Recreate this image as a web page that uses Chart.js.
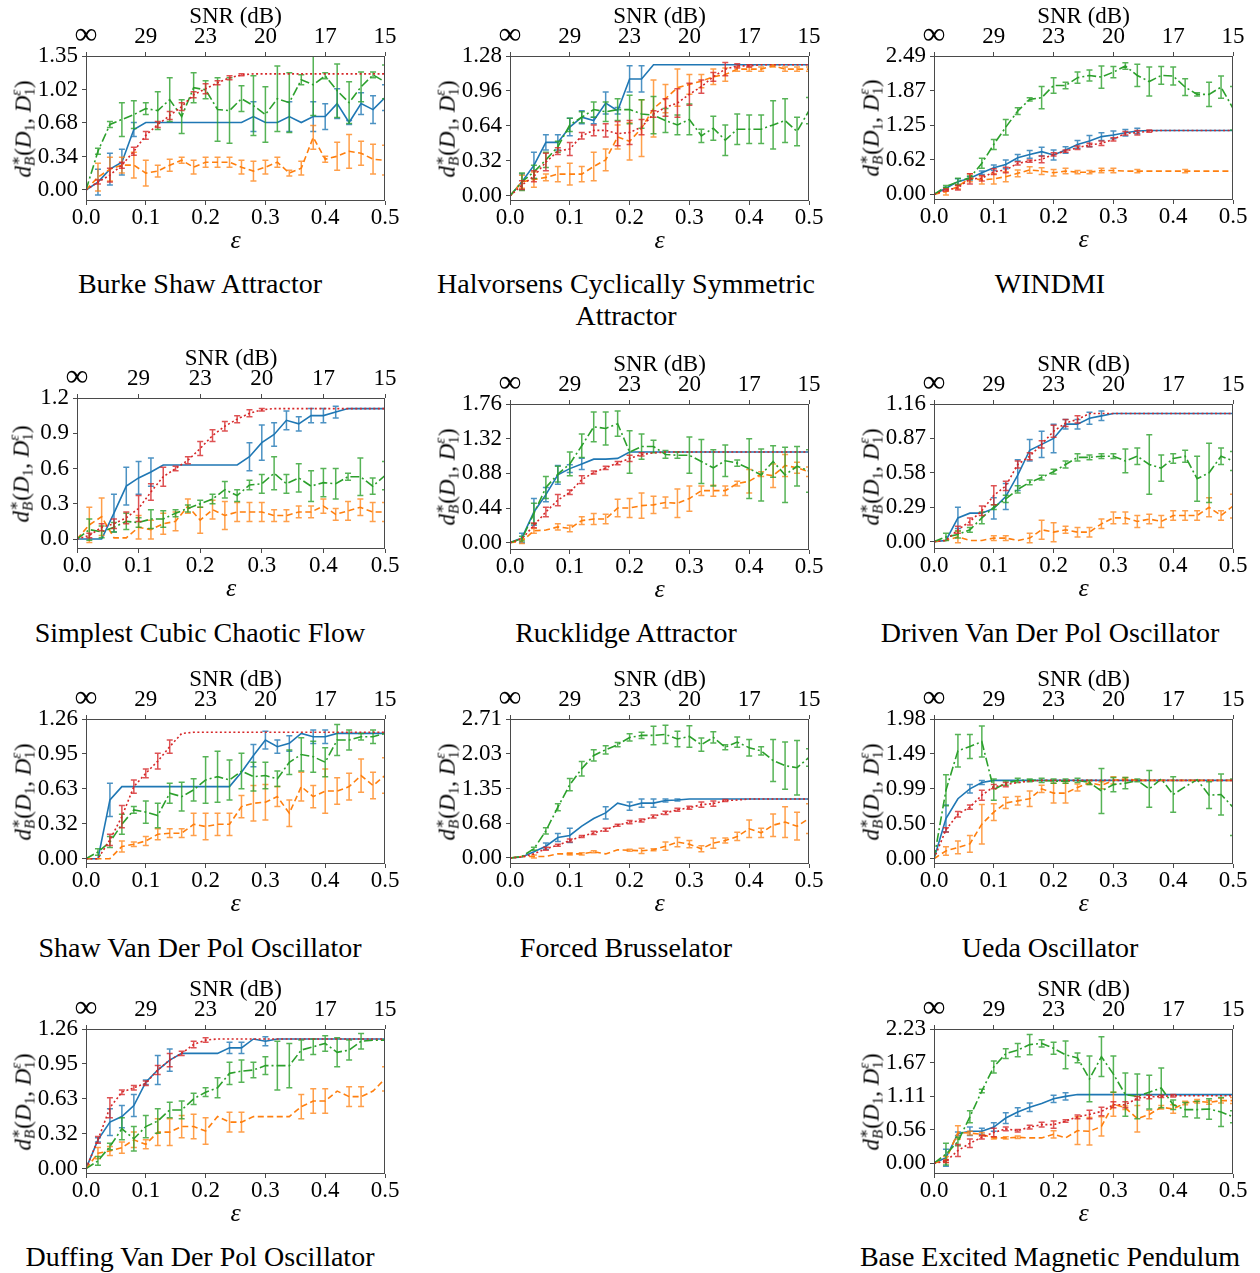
<!DOCTYPE html>
<html>
<head>
<meta charset="utf-8">
<script src="https://cdn.jsdelivr.net/npm/chart.js@4.4.1/dist/chart.umd.min.js"></script>
<style>
body { margin: 0; background: #fff; }
#fig { position: relative; width: 1260px; height: 1273px; overflow: hidden; font-family: 'Liberation Serif', 'DejaVu Serif', serif; color: #000; }
.panel { position: absolute; }
.title { position: absolute; width: 440px; text-align: center; font-size: 28px; line-height: 32px; white-space: pre; }
.ylab { position: absolute; font-size: 23px; line-height: 1; white-space: nowrap; transform: translate(-50%, -50%) rotate(-90deg); }
.ss { display: inline-block; vertical-align: -0.3em; font-size: 0.66em; line-height: 0.95; }
.ss span { display: block; }
.sb { font-size: 0.66em; vertical-align: -0.3em; }
</style>
</head>
<body>
<div id="fig"></div>
<script>
// noise levels
const eps = [0.00, 0.02, 0.04, 0.06, 0.08, 0.10, 0.12, 0.14, 0.16, 0.18, 0.20, 0.22, 0.24,
             0.26, 0.28, 0.30, 0.32, 0.34, 0.36, 0.38, 0.40, 0.42, 0.44, 0.46, 0.48, 0.50];
const xTickValues = [0, 0.1, 0.2, 0.3, 0.4, 0.5];
const xTickLabels = ['0.0', '0.1', '0.2', '0.3', '0.4', '0.5'];
const snrTickLabels = ['∞', '29', '23', '20', '17', '15'];

// Burke Shaw
const bsTicks = ['0.00', '0.34', '0.68', '1.02', '1.35'];
const bsBlue = [0.00,0.08,0.21,0.28,0.61,0.68,0.68,0.68,0.68,0.68,0.68,0.68,0.68,0.68,0.74,0.68,0.68,0.74,0.68,0.74,0.74,0.87,0.68,0.87,0.81,0.93];
const bsBlueErr = [0,0.13,0.16,0.13,0.07,0,0,0,0,0,0,0,0,0,0.15,0,0,0.15,0,0.15,0.13,0.15,0.02,0.11,0.14,0.13];
const bsOrange = [0.00,0.13,0.21,0.25,0.25,0.17,0.19,0.25,0.30,0.23,0.28,0.28,0.28,0.23,0.19,0.23,0.28,0.17,0.22,0.53,0.31,0.34,0.39,0.37,0.31,0.30];
const bsOrangeErr = [0,0.14,0.12,0.08,0.13,0.13,0.06,0.06,0.03,0.07,0.05,0.05,0.05,0.07,0.10,0.07,0.05,0.03,0.07,0.12,0.03,0.14,0.17,0.12,0.15,0.15];
const bsGreen = [0.00,0.39,0.66,0.71,0.76,0.82,0.80,0.91,0.74,1.03,1.01,0.81,0.80,0.92,0.85,0.76,0.92,0.88,1.11,1.06,1.15,1.00,0.88,1.04,1.16,1.09];
const bsGreenErr = [0,0.03,0.03,0.17,0.14,0.06,0.19,0.22,0.17,0.15,0.09,0.32,0.33,0.13,0.30,0.28,0.33,0.30,0.05,0.31,0.03,0.27,0.21,0.15,0.03,0.17];
const bsRed = [0.00,0.08,0.15,0.25,0.39,0.55,0.66,0.75,0.84,0.96,1.02,1.08,1.13,1.16,1.17,1.17,1.17,1.17,1.17,1.17,1.17,1.17,1.17,1.17,1.17,1.17];
const bsRedErr = [0,0.02,0.07,0.03,0.04,0.04,0.03,0.04,0.04,0.03,0.05,0.02,0.02,0.01,0,0,0,0,0,0,0,0,0,0,0,0];

// Halvorsen
const hcTicks = ['0.00', '0.32', '0.64', '0.96', '1.28'];
const hcBlue = [0.00,0.13,0.28,0.49,0.49,0.63,0.72,0.69,0.85,0.78,1.07,1.07,1.20,1.20,1.20,1.20,1.20,1.20,1.20,1.20,1.20,1.20,1.20,1.20,1.20,1.20];
const hcBlueErr = [0,0.07,0.12,0.07,0.07,0.08,0.06,0.03,0.10,0.03,0.12,0.12,0,0,0,0,0,0,0,0,0,0,0,0,0,0];
const hcOrange = [0.00,0.13,0.15,0.17,0.20,0.20,0.20,0.27,0.33,0.54,0.50,0.62,0.80,0.89,0.99,1.02,1.05,1.09,1.11,1.16,1.16,1.16,1.19,1.16,1.16,1.16];
const hcOrangeErr = [0,0.06,0.07,0.03,0.07,0.10,0.07,0.13,0.10,0.11,0.17,0.26,0.26,0.13,0.17,0.09,0.06,0.07,0.06,0.02,0.02,0.02,0.01,0.02,0.02,0.02];
const hcGreen = [0.00,0.13,0.22,0.33,0.45,0.65,0.72,0.79,0.77,0.79,0.79,0.75,0.74,0.69,0.65,0.70,0.55,0.62,0.51,0.61,0.61,0.61,0.65,0.69,0.59,0.78];
const hcGreenErr = [0,0.08,0.06,0.07,0.05,0.06,0.05,0.07,0.09,0.10,0.13,0.13,0.17,0.11,0.09,0.14,0.06,0.11,0.14,0.14,0.13,0.13,0.22,0.20,0.13,0.12];
const hcRed = [0.00,0.10,0.18,0.31,0.41,0.43,0.55,0.60,0.60,0.57,0.58,0.63,0.75,0.81,0.85,0.93,1.00,1.09,1.16,1.19,1.19,1.20,1.20,1.20,1.20,1.20];
const hcRedErr = [0,0.04,0.05,0.08,0.03,0.06,0.03,0.05,0.06,0.11,0.11,0.07,0.03,0.08,0.13,0.10,0.06,0.04,0.06,0.02,0.01,0,0,0,0,0];

// WINDMI
const wmTicks = ['0.00', '0.62', '1.25', '1.87', '2.49'];
const wmBlue = [0.00,0.11,0.23,0.29,0.39,0.48,0.54,0.66,0.72,0.77,0.71,0.80,0.90,0.96,1.04,1.07,1.11,1.14,1.15,1.15,1.15,1.15,1.15,1.15,1.15,1.15];
const wmBlueErr = [0,0.02,0.05,0.03,0.03,0.05,0.08,0.06,0.07,0.08,0.09,0.06,0.07,0.10,0.07,0.07,0.06,0.05,0,0,0,0,0,0,0,0];
const wmOrange = [0.00,0.05,0.14,0.30,0.26,0.28,0.32,0.38,0.44,0.42,0.39,0.42,0.40,0.40,0.43,0.43,0.42,0.42,0.42,0.42,0.42,0.42,0.42,0.42,0.42,0.42];
const wmOrangeErr = [0,0.06,0.04,0.07,0.07,0.09,0.09,0.06,0.06,0.06,0.06,0.05,0.03,0.03,0.04,0.04,0,0.03,0,0,0,0.03,0,0,0,0];
const wmGreen = [0.00,0.14,0.23,0.30,0.56,0.90,1.21,1.50,1.71,1.74,1.96,1.96,2.10,2.14,2.11,2.20,2.31,2.14,2.03,2.14,2.13,1.93,1.80,1.80,1.93,1.55];
const wmGreenErr = [0,0.02,0.06,0.03,0.09,0.09,0.14,0.06,0.03,0.20,0.14,0.06,0.10,0.10,0.20,0.10,0.06,0.20,0.26,0.16,0.16,0.15,0.03,0.22,0.20,0.39];
const wmRed = [0.00,0.08,0.12,0.28,0.29,0.41,0.44,0.56,0.60,0.63,0.72,0.78,0.84,0.89,0.92,0.99,1.10,1.11,1.14,1.15,1.15,1.15,1.15,1.15,1.15,1.15];
const wmRedErr = [0,0.02,0.04,0.09,0.05,0.05,0.05,0.03,0.02,0.06,0.03,0.02,0.03,0.03,0.04,0.03,0.03,0.04,0.02,0,0,0,0,0,0,0];

// Simplest cubic chaotic flow
const scTicks = ['0.0', '0.3', '0.6', '0.9', '1.2'];
const scBlue = [0.00,0.00,0.00,0.22,0.45,0.52,0.57,0.63,0.63,0.63,0.63,0.63,0.63,0.63,0.70,0.82,0.89,1.01,0.98,1.05,1.05,1.08,1.11,1.11,1.11,1.11];
const scBlueErr = [0,0,0,0.16,0.16,0.14,0.12,0,0,0,0,0,0,0,0.12,0.15,0.10,0.08,0.06,0.06,0.06,0.05,0,0,0,0];
const scOrange = [0.00,0.12,0.19,0.01,0.01,0.10,0.08,0.13,0.15,0.28,0.16,0.25,0.20,0.23,0.23,0.23,0.20,0.20,0.23,0.23,0.28,0.21,0.24,0.27,0.23,0.23];
const scOrangeErr = [0,0.15,0.16,0,0,0.10,0.08,0.09,0.08,0.06,0.11,0.08,0.12,0.08,0.08,0.08,0.05,0.05,0.05,0.05,0.06,0.05,0.08,0.07,0.08,0.08];
const scGreen = [0.00,0.08,0.06,0.10,0.15,0.14,0.17,0.17,0.22,0.26,0.30,0.34,0.42,0.37,0.46,0.47,0.56,0.47,0.52,0.45,0.48,0.47,0.53,0.53,0.45,0.54];
const scGreenErr = [0,0.09,0.05,0.04,0.07,0.04,0.08,0.07,0.03,0.03,0.03,0.04,0.07,0.05,0.04,0.08,0.14,0.08,0.12,0.13,0.12,0.13,0.03,0.16,0.07,0.12];
const scRed = [0.00,0.03,0.10,0.13,0.18,0.26,0.40,0.53,0.60,0.67,0.77,0.88,0.96,1.02,1.07,1.10,1.11,1.11,1.11,1.11,1.11,1.11,1.11,1.11,1.11,1.11];
const scRedErr = [0,0.02,0.03,0.04,0.05,0.11,0.07,0.08,0.02,0.03,0.06,0.05,0.04,0.03,0.03,0.01,0,0,0,0,0,0,0,0,0,0];

// Rucklidge
const rkTicks = ['0.00', '0.44', '0.88', '1.32', '1.76'];
const rkBlue = [0.00,0.06,0.39,0.61,0.86,0.94,1.00,1.06,1.06,1.07,1.15,1.15,1.15,1.15,1.15,1.15,1.15,1.15,1.15,1.15,1.15,1.15,1.15,1.15,1.15,1.15];
const rkBlueErr = [0,0.06,0.17,0.09,0.12,0.05,0.07,0,0,0,0,0,0,0,0,0,0,0,0,0,0,0,0,0,0,0];
const rkOrange = [0.00,0.02,0.15,0.16,0.20,0.18,0.28,0.30,0.30,0.44,0.44,0.47,0.48,0.51,0.50,0.56,0.66,0.66,0.66,0.75,0.78,0.87,0.85,0.98,0.95,0.90];
const rkOrangeErr = [0,0.03,0.03,0,0.04,0.04,0.05,0.07,0.06,0.11,0.12,0.16,0.11,0.07,0.18,0.16,0.06,0.07,0.06,0.03,0.15,0.03,0.15,0.14,0.07,0.06];
const rkGreen = [0.00,0.05,0.37,0.70,0.87,1.00,1.23,1.47,1.45,1.51,1.15,1.22,1.22,1.12,1.11,1.11,1.03,0.95,1.04,1.01,0.94,0.86,1.03,0.86,0.97,0.91];
const rkGreenErr = [0,0.03,0.13,0.14,0.10,0.15,0.15,0.19,0.21,0.16,0.27,0.16,0.08,0.05,0.04,0.23,0.28,0.23,0.20,0.04,0.38,0.33,0.20,0.35,0.25,0.27];
const rkRed = [0.00,0.05,0.22,0.39,0.54,0.64,0.80,0.89,0.95,1.01,1.07,1.12,1.14,1.15,1.15,1.15,1.15,1.15,1.15,1.15,1.15,1.15,1.15,1.15,1.15,1.15];
const rkRedErr = [0,0,0.03,0.06,0.07,0.03,0.05,0.02,0.02,0.02,0.04,0.02,0,0,0,0,0,0,0,0,0,0,0,0,0,0];

// Driven Van der Pol
const dvTicks = ['0.00', '0.29', '0.58', '0.87', '1.16'];
const dvBlue = [0.00,0.01,0.20,0.24,0.24,0.28,0.38,0.56,0.77,0.82,0.87,0.99,0.99,1.04,1.06,1.08,1.08,1.08,1.08,1.08,1.08,1.08,1.08,1.08,1.08,1.08];
const dvBlueErr = [0,0,0.09,0,0,0.09,0.11,0.13,0.09,0.11,0.12,0.04,0.04,0.05,0.04,0,0,0,0,0,0,0,0,0,0,0];
const dvOrange = [0.00,0.01,0.04,0.01,0.01,0.03,0.03,0.01,0.03,0.10,0.08,0.10,0.08,0.08,0.15,0.20,0.20,0.17,0.19,0.17,0.22,0.22,0.22,0.29,0.22,0.30];
const dvOrangeErr = [0,0,0.05,0,0,0.02,0.02,0,0.04,0.08,0.08,0.03,0.04,0.04,0.04,0.05,0.05,0.05,0.04,0.05,0.04,0.04,0.04,0.08,0.04,0.10];
const dvGreen = [0.00,0.04,0.06,0.10,0.20,0.29,0.36,0.44,0.50,0.54,0.59,0.65,0.71,0.71,0.72,0.72,0.68,0.72,0.65,0.62,0.70,0.72,0.53,0.58,0.72,0.68];
const dvGreenErr = [0,0.03,0.03,0.02,0.05,0.02,0.03,0.03,0.02,0.02,0.02,0.03,0.03,0.02,0.02,0.02,0.10,0.07,0.25,0.11,0.04,0.05,0.19,0.25,0.07,0.08];
const dvRed = [0.00,0.01,0.10,0.17,0.26,0.39,0.47,0.65,0.72,0.82,0.93,1.00,1.03,1.08,1.08,1.08,1.08,1.08,1.08,1.08,1.08,1.08,1.08,1.08,1.08,1.08];
const dvRedErr = [0,0,0.03,0.03,0.04,0.08,0.04,0.03,0.03,0.03,0.05,0.03,0.03,0,0,0,0,0,0,0,0,0,0,0,0,0];

// Shaw Van der Pol
const svTicks = ['0.00', '0.32', '0.63', '0.95', '1.26'];
const svBlue = [0.00,0.00,0.53,0.65,0.65,0.65,0.65,0.65,0.65,0.65,0.65,0.65,0.65,0.78,0.93,1.07,1.01,1.04,1.13,1.10,1.10,1.13,1.13,1.13,1.13,1.13];
const svBlueErr = [0,0,0.15,0,0,0,0,0,0,0,0,0,0,0,0.10,0.08,0.06,0.07,0,0.06,0.06,0,0,0,0,0];
const svOrange = [0.00,0.00,0.00,0.11,0.13,0.16,0.22,0.23,0.23,0.31,0.29,0.31,0.31,0.47,0.50,0.51,0.56,0.41,0.65,0.56,0.61,0.61,0.65,0.75,0.66,0.75];
const svOrangeErr = [0,0,0,0.05,0.02,0.04,0.05,0.04,0.04,0.10,0.12,0.10,0.10,0.10,0.16,0.16,0.09,0.12,0.13,0.10,0.20,0.12,0.12,0.15,0.12,0.16];
const svGreen = [0.00,0.06,0.15,0.31,0.44,0.42,0.39,0.59,0.56,0.62,0.71,0.74,0.71,0.79,0.74,0.75,0.72,0.87,0.94,0.92,0.87,1.07,1.07,1.10,1.10,1.13];
const svGreenErr = [0,0.03,0.05,0.09,0.03,0.10,0.11,0.09,0.13,0.10,0.21,0.23,0.18,0.16,0.13,0.12,0.07,0.11,0.15,0.14,0.13,0.14,0.09,0.03,0.06,0];
const svRed = [0.00,0.00,0.17,0.38,0.65,0.77,0.88,1.01,1.13,1.14,1.14,1.14,1.14,1.14,1.14,1.14,1.14,1.14,1.14,1.14,1.14,1.14,1.14,1.14,1.14,1.14];
const svRedErr = [0,0,0.05,0.10,0.06,0.04,0.07,0.06,0,0,0,0,0,0,0,0,0,0,0,0,0,0,0,0,0,0];

// Forced Brusselator
const fbTicks = ['0.00', '0.68', '1.35', '2.03', '2.71'];
const fbBlue = [0.00,0.02,0.12,0.23,0.40,0.44,0.62,0.77,0.88,1.07,1.01,1.07,1.07,1.12,1.13,1.15,1.15,1.15,1.15,1.15,1.15,1.15,1.15,1.15,1.15,1.15];
const fbBlueErr = [0,0,0,0.06,0.08,0.14,0,0,0.12,0,0.08,0.08,0.08,0.03,0.02,0,0,0,0,0,0,0,0,0,0,0];
const fbOrange = [0.00,0.03,0.03,0.03,0.08,0.08,0.08,0.12,0.08,0.16,0.15,0.14,0.16,0.23,0.31,0.27,0.18,0.29,0.34,0.42,0.57,0.49,0.64,0.70,0.62,0.77];
const fbOrangeErr = [0,0,0.03,0,0,0.02,0.02,0.02,0,0,0.02,0.05,0.02,0.08,0.09,0.07,0.06,0.10,0.05,0.08,0.17,0.09,0.22,0.30,0.27,0.29];
const fbGreen = [0.00,0.03,0.18,0.53,0.99,1.43,1.74,2.00,2.11,2.21,2.35,2.39,2.39,2.41,2.32,2.37,2.21,2.35,2.16,2.26,2.15,2.09,1.90,1.80,1.76,1.96];
const fbGreenErr = [0,0,0.03,0.06,0.07,0.12,0.14,0.11,0.08,0.04,0.07,0.06,0.18,0.18,0.15,0.21,0.13,0.11,0.05,0.10,0.16,0.08,0.41,0.46,0.53,0.17];
const fbRed = [0.00,0.02,0.08,0.18,0.25,0.34,0.42,0.49,0.55,0.64,0.70,0.73,0.81,0.88,0.94,0.98,1.04,1.06,1.12,1.13,1.15,1.15,1.15,1.15,1.15,1.15];
const fbRedErr = [0,0,0,0.03,0.02,0.03,0.02,0.03,0.03,0.02,0.03,0.03,0.03,0.03,0.03,0.03,0.05,0.05,0.02,0,0,0,0,0,0,0];

// Ueda
const ueTicks = ['0.00', '0.50', '0.99', '1.49', '1.98'];
const ueBlue = [0.00,0.57,0.85,0.99,1.08,1.11,1.11,1.11,1.11,1.11,1.11,1.11,1.11,1.11,1.11,1.11,1.11,1.11,1.11,1.11,1.11,1.11,1.11,1.11,1.11,1.11];
const ueBlueErr = [0,0.19,0,0.06,0.03,0,0,0,0,0,0,0,0,0,0,0,0,0,0,0,0,0,0,0,0,0];
const ueOrange = [0.00,0.11,0.16,0.21,0.49,0.66,0.79,0.82,0.85,0.99,0.93,0.93,1.01,1.08,1.04,1.11,1.13,1.11,1.11,1.11,1.11,1.11,1.11,1.11,1.11,1.11];
const ueOrangeErr = [0,0.06,0.09,0.12,0.28,0.12,0.08,0.06,0.11,0.05,0.14,0.14,0.05,0.03,0.05,0.05,0.02,0,0,0,0,0,0,0,0,0];
const ueGreen = [0.00,0.97,1.53,1.59,1.66,0.98,1.07,1.11,1.11,1.11,1.10,1.10,1.11,1.08,0.96,1.05,1.07,1.11,0.99,1.13,0.91,1.02,1.12,0.90,0.91,0.73];
const ueGreenErr = [0,0.22,0.23,0.17,0.22,0.15,0.03,0.03,0.02,0.03,0.03,0.03,0.03,0.03,0.32,0.10,0.08,0.02,0.26,0,0.25,0,0,0.19,0.29,0.40];
const ueRed = [0.00,0.41,0.63,0.73,0.90,1.02,1.05,1.08,1.10,1.11,1.11,1.11,1.11,1.11,1.11,1.11,1.11,1.11,1.11,1.11,1.11,1.11,1.11,1.11,1.11,1.11];
const ueRedErr = [0,0.03,0.04,0.03,0.07,0.03,0.03,0,0,0,0,0,0,0,0,0,0,0,0,0,0,0,0,0,0,0];

// Duffing Van der Pol
const duTicks = ['0.00', '0.32', '0.63', '0.95', '1.26'];
const duBlue = [0.00,0.26,0.42,0.47,0.57,0.78,0.89,0.98,1.04,1.04,1.04,1.04,1.09,1.09,1.17,1.15,1.17,1.17,1.17,1.17,1.17,1.17,1.17,1.17,1.17,1.17];
const duBlueErr = [0,0.02,0.12,0.10,0.10,0.02,0.13,0.10,0,0,0,0,0.05,0.05,0,0.04,0,0,0,0,0,0,0,0,0,0];
const duOrange = [0.00,0.14,0.16,0.19,0.26,0.22,0.33,0.33,0.38,0.38,0.34,0.47,0.42,0.42,0.47,0.47,0.47,0.47,0.56,0.61,0.61,0.70,0.65,0.65,0.70,0.81];
const duOrangeErr = [0,0.05,0.04,0.05,0.07,0.04,0.12,0.12,0.10,0.11,0.12,0,0.09,0.09,0,0,0,0,0.11,0.11,0.11,0,0.09,0.09,0,0.11];
const duGreen = [0.00,0.07,0.20,0.36,0.27,0.38,0.43,0.53,0.53,0.63,0.69,0.73,0.86,0.88,0.89,0.93,0.93,0.93,1.07,1.10,1.13,1.05,1.07,1.15,1.16,1.16];
const duGreenErr = [0,0.04,0.03,0.10,0.11,0.10,0.11,0.07,0.08,0.05,0.04,0.09,0.10,0.10,0.07,0.08,0.22,0.20,0.09,0.07,0.07,0.13,0.09,0.07,0,0];
const duRed = [0.00,0.26,0.55,0.69,0.73,0.77,0.89,0.98,1.04,1.12,1.16,1.17,1.17,1.17,1.17,1.17,1.17,1.17,1.17,1.17,1.17,1.17,1.17,1.17,1.17,1.17];
const duRedErr = [0,0.03,0.09,0.02,0.02,0.02,0.04,0.06,0.02,0.03,0.02,0,0,0,0,0,0,0,0,0,0,0,0,0,0,0];

// Base excited magnetic pendulum
const bpTicks = ['0.00', '0.56', '1.11', '1.67', '2.23'];
const bpBlue = [0.00,0.09,0.49,0.53,0.53,0.60,0.75,0.85,0.93,0.99,1.07,1.11,1.14,1.14,1.14,1.14,1.14,1.14,1.14,1.14,1.14,1.14,1.14,1.14,1.14,1.14];
const bpBlueErr = [0,0.14,0.03,0.07,0.05,0.07,0.09,0.07,0.07,0,0.06,0.06,0,0,0,0,0,0,0,0,0,0,0,0,0,0];
const bpOrange = [0.00,0.06,0.51,0.50,0.48,0.42,0.42,0.43,0.42,0.42,0.48,0.42,0.54,0.53,0.61,0.98,0.92,0.74,0.81,0.93,0.90,1.00,1.03,1.01,1.04,1.04];
const bpOrangeErr = [0,0.05,0.11,0.03,0.03,0.02,0.02,0.02,0,0,0.06,0,0.23,0.23,0.16,0.20,0.03,0.22,0.07,0.03,0.07,0.03,0.03,0.03,0.04,0.05];
const bpGreen = [0.00,0.15,0.36,0.77,1.20,1.60,1.82,1.88,1.97,1.99,1.91,1.80,1.75,1.40,1.77,1.48,1.14,1.11,1.18,1.25,0.97,0.89,0.89,0.90,0.85,0.77];
const bpGreenErr = [0,0.18,0.07,0.10,0.03,0.10,0.08,0.11,0.17,0.06,0.10,0.23,0.08,0.38,0.33,0.30,0.36,0.37,0.28,0.33,0.08,0.12,0.14,0.17,0.24,0.10];
const bpRed = [0.00,0.03,0.21,0.33,0.43,0.51,0.57,0.54,0.60,0.64,0.64,0.70,0.77,0.81,0.86,0.97,0.97,1.08,1.10,1.11,1.12,1.12,1.12,1.12,1.12,1.12];
const bpRedErr = [0,0.02,0.10,0.07,0.03,0.07,0.03,0.02,0.03,0.04,0.06,0.02,0.03,0.07,0.07,0.05,0.05,0.03,0.03,0.02,0.02,0,0,0,0,0];

const systems = [
    { title: 'Burke Shaw Attractor', ticks: bsTicks, series: [bsBlue, bsOrange, bsGreen, bsRed], errors: [bsBlueErr, bsOrangeErr, bsGreenErr, bsRedErr] },
    { title: 'Halvorsens Cyclically Symmetric\nAttractor', ticks: hcTicks, series: [hcBlue, hcOrange, hcGreen, hcRed], errors: [hcBlueErr, hcOrangeErr, hcGreenErr, hcRedErr] },
    { title: 'WINDMI', ticks: wmTicks, series: [wmBlue, wmOrange, wmGreen, wmRed], errors: [wmBlueErr, wmOrangeErr, wmGreenErr, wmRedErr] },
    { title: 'Simplest Cubic Chaotic Flow', ticks: scTicks, series: [scBlue, scOrange, scGreen, scRed], errors: [scBlueErr, scOrangeErr, scGreenErr, scRedErr] },
    { title: 'Rucklidge Attractor', ticks: rkTicks, series: [rkBlue, rkOrange, rkGreen, rkRed], errors: [rkBlueErr, rkOrangeErr, rkGreenErr, rkRedErr] },
    { title: 'Driven Van Der Pol Oscillator', ticks: dvTicks, series: [dvBlue, dvOrange, dvGreen, dvRed], errors: [dvBlueErr, dvOrangeErr, dvGreenErr, dvRedErr] },
    { title: 'Shaw Van Der Pol Oscillator', ticks: svTicks, series: [svBlue, svOrange, svGreen, svRed], errors: [svBlueErr, svOrangeErr, svGreenErr, svRedErr] },
    { title: 'Forced Brusselator', ticks: fbTicks, series: [fbBlue, fbOrange, fbGreen, fbRed], errors: [fbBlueErr, fbOrangeErr, fbGreenErr, fbRedErr] },
    { title: 'Ueda Oscillator', ticks: ueTicks, series: [ueBlue, ueOrange, ueGreen, ueRed], errors: [ueBlueErr, ueOrangeErr, ueGreenErr, ueRedErr] },
    { title: 'Duffing Van Der Pol Oscillator', ticks: duTicks, series: [duBlue, duOrange, duGreen, duRed], errors: [duBlueErr, duOrangeErr, duGreenErr, duRedErr] },
    { title: 'Base Excited Magnetic Pendulum', ticks: bpTicks, series: [bpBlue, bpOrange, bpGreen, bpRed], errors: [bpBlueErr, bpOrangeErr, bpGreenErr, bpRedErr] }
];

// plot-area boxes on the page (px) and lower y limit of each axis
const panels = [
    { left: 86,  right: 385,  top: 56,   bottom: 201,  yMin: -0.111, labelX: 23,  titleX: 200,  titleY: 284 },
    { left: 510, right: 809,  top: 56,   bottom: 201,  yMin: -0.046, labelX: 447, titleX: 626,  titleY: 284 },
    { left: 934, right: 1233, top: 56,   bottom: 200,  yMin: -0.10,  labelX: 871, titleX: 1050, titleY: 284 },
    { left: 77,  right: 385,  top: 398,  bottom: 549,  yMin: -0.085, labelX: 21,  titleX: 200,  titleY: 633 },
    { left: 510, right: 809,  top: 404,  bottom: 550,  yMin: -0.093, labelX: 447, titleX: 626,  titleY: 633 },
    { left: 934, right: 1233, top: 404,  bottom: 549,  yMin: -0.062, labelX: 871, titleX: 1050, titleY: 633 },
    { left: 86,  right: 385,  top: 719,  bottom: 864,  yMin: -0.048, labelX: 23,  titleX: 200,  titleY: 948 },
    { left: 510, right: 809,  top: 719,  bottom: 864,  yMin: -0.117, labelX: 447, titleX: 626,  titleY: 948 },
    { left: 934, right: 1233, top: 719,  bottom: 864,  yMin: -0.075, labelX: 871, titleX: 1050, titleY: 948 },
    { left: 86,  right: 385,  top: 1029, bottom: 1174, yMin: -0.048, labelX: 23,  titleX: 200,  titleY: 1257 },
    { left: 934, right: 1233, top: 1029, bottom: 1174, yMin: -0.18,  labelX: 871, titleX: 1050, titleY: 1257 }
];

const seriesColors = ['#1f77b4', '#ff7f0e', '#2ca02c', '#d62728'];
const errorColors = ['rgba(31,119,180,0.8)', 'rgba(255,127,14,0.75)', 'rgba(44,160,44,0.8)', 'rgba(214,39,40,0.8)'];
const seriesDash = [[], [6, 3.5], [9, 3, 2, 3], [2, 2.5]];
const axisColor = '#4a4a4a';
const FONT = "'Liberation Serif', 'DejaVu Serif', serif";

const errorBars = {
    id: 'errorBars',
    afterDatasetDraw(chart, args) {
        const ds = chart.data.datasets[args.index];
        if (!ds.errors) return;
        const { ctx, chartArea: a } = chart;
        const ys = chart.scales.y;
        ctx.save();
        ctx.beginPath();
        ctx.rect(a.left, a.top, a.right - a.left, a.bottom - a.top);
        ctx.clip();
        ctx.strokeStyle = ds.errorColor;
        ctx.lineWidth = 1.5;
        args.meta.data.forEach((pt, i) => {
            const e = ds.errors[i];
            if (!e) return;
            const v = ds.data[i].y;
            const y1 = ys.getPixelForValue(v - e);
            const y2 = ys.getPixelForValue(v + e);
            ctx.beginPath();
            ctx.moveTo(pt.x, y1); ctx.lineTo(pt.x, y2);
            ctx.moveTo(pt.x - 3, y1); ctx.lineTo(pt.x + 3, y1);
            ctx.moveTo(pt.x - 3, y2); ctx.lineTo(pt.x + 3, y2);
            ctx.stroke();
        });
        ctx.restore();
    }
};

const frame = {
    id: 'frame',
    afterDatasetsDraw(chart) {
        const { ctx, chartArea: a } = chart;
        ctx.save();
        ctx.strokeStyle = axisColor;
        ctx.lineWidth = 1;
        ctx.strokeRect(Math.round(a.left) + 0.5, Math.round(a.top) + 0.5,
                       Math.round(a.right - a.left) - 1, Math.round(a.bottom - a.top) - 1);
        ctx.restore();
    }
};

const yLabelHtml = '<i>d</i><span class="ss"><span>∗</span><span><i>B</i></span></span>(<i>D</i><span class="sb">1</span>, <i>D</i><span class="ss"><span><i>ε</i></span><span>1</span></span>)';

const fig = document.getElementById('fig');

function makePanel(sys, geo) {
    const L = 80, R = 22, T = 53, B = 56;
    const pw = geo.right - geo.left, ph = geo.bottom - geo.top;
    const wrap = document.createElement('div');
    wrap.className = 'panel';
    wrap.style.left = (geo.left - L) + 'px';
    wrap.style.top = (geo.top - T) + 'px';
    const canvas = document.createElement('canvas');
    canvas.width = L + pw + R;
    canvas.height = T + ph + B;
    canvas.style.width = canvas.width + 'px';
    canvas.style.height = canvas.height + 'px';
    wrap.appendChild(canvas);
    fig.appendChild(wrap);

    const yMax = parseFloat(sys.ticks[sys.ticks.length - 1]);
    const yTickValues = sys.ticks.map((t, i) => i * yMax / (sys.ticks.length - 1));
    const tickFont = { family: FONT, size: 23, lineHeight: 1 };
    const snrFont = c => (c.index === 0 ? { family: FONT, size: 32, lineHeight: 0.78 } : tickFont);
    const tickGrid = { display: true, drawOnChartArea: false, drawTicks: true, tickLength: 4, color: axisColor, lineWidth: 1 };

    new Chart(canvas.getContext('2d'), {
        type: 'line',
        data: {
            datasets: sys.series.map((vals, s) => ({
                data: eps.map((e, i) => ({ x: e, y: vals[i] })),
                errors: sys.errors[s],
                errorColor: errorColors[s],
                borderColor: seriesColors[s],
                borderDash: seriesDash[s],
                borderWidth: 1.6,
                pointRadius: 0,
                fill: false,
                tension: 0,
                order: 4 - s,
                xAxisID: 'x',
                yAxisID: 'y'
            }))
        },
        options: {
            responsive: false,
            animation: false,
            devicePixelRatio: 1,
            layout: { padding: { left: 0, top: 0, right: R, bottom: 0 } },
            plugins: { legend: { display: false }, tooltip: { enabled: false } },
            scales: {
                x: {
                    type: 'linear', position: 'bottom', min: 0, max: 0.5,
                    afterBuildTicks: s => { s.ticks = xTickValues.map(v => ({ value: v })); },
                    afterFit: s => { s.height = B; },
                    ticks: { callback: (v, i) => xTickLabels[i], font: tickFont, color: '#000', padding: 1, maxRotation: 0, autoSkip: false },
                    grid: tickGrid,
                    border: { display: false },
                    title: { display: true, text: 'ε', color: '#000', padding: 0, font: { family: FONT, size: 26, style: 'italic' } }
                },
                x2: {
                    type: 'linear', position: 'top', min: 0, max: 0.5,
                    afterBuildTicks: s => { s.ticks = xTickValues.map(v => ({ value: v })); },
                    afterFit: s => { s.height = T; },
                    ticks: { callback: (v, i) => snrTickLabels[i], font: snrFont, color: '#000', padding: 3.5, maxRotation: 0, autoSkip: false },
                    grid: tickGrid,
                    border: { display: false },
                    title: { display: true, text: 'SNR (dB)', color: '#000', padding: 0, font: { family: FONT, size: 23 } }
                },
                y: {
                    type: 'linear', position: 'left', min: geo.yMin, max: yMax,
                    afterBuildTicks: s => { s.ticks = yTickValues.map(v => ({ value: v })); },
                    afterFit: s => { s.width = L; },
                    ticks: { callback: (v, i) => sys.ticks[i], font: tickFont, color: '#000', padding: 4, autoSkip: false },
                    grid: tickGrid,
                    border: { display: false }
                }
            }
        },
        plugins: [errorBars, frame]
    });

    const lab = document.createElement('div');
    lab.className = 'ylab';
    lab.style.left = geo.labelX + 'px';
    lab.style.top = ((geo.top + geo.bottom) / 2) + 'px';
    lab.innerHTML = yLabelHtml;
    fig.appendChild(lab);

    const title = document.createElement('div');
    title.className = 'title';
    title.style.left = (geo.titleX - 220) + 'px';
    title.style.top = (geo.titleY - 16) + 'px';
    title.textContent = sys.title;
    fig.appendChild(title);
}

systems.forEach((sys, i) => makePanel(sys, panels[i]));
</script>
</body>
</html>
